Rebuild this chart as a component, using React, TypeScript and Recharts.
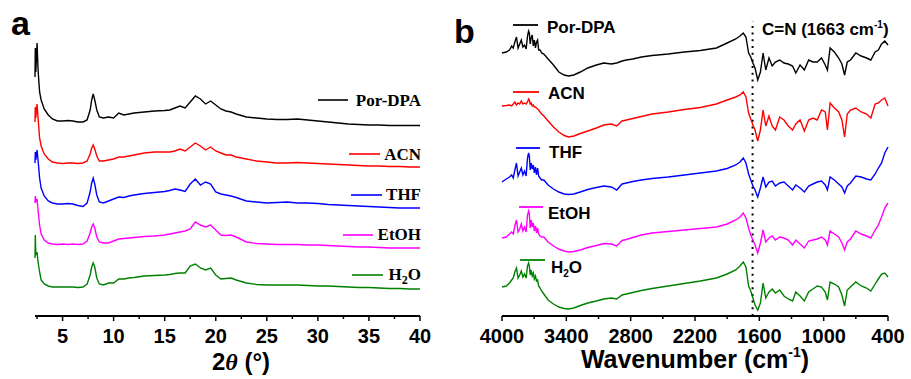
import { LineChart, Line, XAxis, YAxis, ReferenceLine } from "recharts";

// (a) PXRD, 2θ (°)
const twoTheta = [
  2.3, 2.33, 2.38, 2.5, 2.6, 2.75, 2.9, 3.2, 3.6, 4.0,
  4.5, 5.0, 5.5, 6.0, 6.5, 7.0, 7.4, 7.7, 7.85, 8.0,
  8.15, 8.35, 8.6, 9.0, 9.5, 10.0, 10.5, 11.0, 11.5, 12,
  13, 14, 15, 15.5, 16, 16.5, 17, 17.5, 18, 18.5,
  19, 19.5, 20, 20.5, 21, 21.5, 22, 23, 24, 25,
  26, 27, 28, 29, 30, 31, 32, 33, 34, 35,
  36, 37, 38, 39, 40,
];
// intensities already stacked (a.u.)
const xrdPorDpa = [
  239, 268, 244, 273, 246, 224, 216, 207, 201, 197,
  195, 195, 195.5, 195, 194, 194, 196, 206, 216, 222,
  216, 206, 199, 198, 199, 198, 203, 201, 202, 203,
  204, 205, 205.5, 206, 208, 210, 208, 214, 220, 217,
  212, 215, 211, 207, 205, 204, 202, 199, 198, 197,
  196.5, 196.5, 197, 196, 195, 194, 193, 192, 191.5, 191,
  191, 190.5, 190.5, 190.5, 190.5,
];
const xrdAcn = [
  194, 209, 198, 212, 198, 178, 170, 162, 157, 154,
  153, 152.5, 153, 153, 152.5, 153, 155, 162, 168, 171,
  167, 160, 155, 155, 156, 157, 159, 159, 160, 161,
  163, 164, 164, 164, 165, 167, 165, 169, 173, 170,
  166, 169, 165, 163, 161, 161, 159, 157, 155, 154,
  153, 153, 153.5, 153, 152.5, 152, 151.5, 151, 150.5, 150,
  150, 149.5, 149.5, 149, 149,
];
const xrdThf = [
  153, 164, 156, 166, 156, 138, 128, 120, 115, 113,
  112, 112, 112.5, 112, 110.5, 109.5, 113, 124, 133, 138,
  132, 121, 114, 113, 115, 117, 119, 118.5, 120, 121,
  122.5, 123.5, 124.5, 125.5, 127, 126, 124.5, 132, 137, 131,
  134, 132, 124, 122, 121, 120, 118.5, 115, 114, 113,
  113.5, 114, 113, 113, 112.5, 111.5, 111, 110.5, 110, 109.5,
  109, 108.5, 108, 108, 108,
];
const xrdEtoh = [
  113, 120, 114, 117, 106, 91, 82, 76, 73, 72,
  71.5, 72, 71.5, 72, 71.5, 72, 75, 83, 89, 92,
  88, 79, 74, 73, 73, 75, 77, 77.5, 78, 78.5,
  79.5, 80, 81, 82, 83, 84, 85, 87, 94, 91,
  89, 91, 86, 81, 80.5, 81, 79, 74, 72.5, 72,
  71.5, 71.5, 71.5, 71, 71, 70.5, 70, 69.5, 69, 69,
  68.5, 68, 68, 68, 68,
];
const xrdH2o = [
  58, 81, 61, 64, 54, 44, 36, 32, 30, 29,
  29, 29, 29, 29, 28.5, 29, 32, 41, 49, 53,
  49, 38, 32, 31, 33, 33, 37, 37, 38, 38.5,
  40, 40.5, 41, 41.5, 42.5, 43, 43, 50, 52, 48,
  46, 48, 41, 37, 37.5, 38, 36, 33, 31.5, 31,
  31, 31, 31, 30.5, 30, 30, 29.5, 29, 28.5, 28.5,
  28, 27.5, 27.5, 27, 27,
];

// (b) FT-IR, wavenumber (cm-1)
const wavenumber = [
  4000, 3960, 3930, 3910, 3895, 3880, 3865, 3850, 3835, 3820,
  3805, 3790, 3775, 3762, 3752, 3745, 3737, 3728, 3718, 3708,
  3698, 3688, 3678, 3668, 3658, 3645, 3630, 3610,
  3570, 3520, 3470, 3420, 3380,
  3330, 3270, 3200, 3120, 3050, 2980, 2930, 2880, 2840, 2780,
  2700, 2600, 2450, 2300, 2150, 2000, 1900, 1820, 1780, 1750,
  1725, 1700, 1680, 1660, 1640, 1615, 1590, 1565, 1540, 1510,
  1480, 1450, 1410, 1370, 1330, 1290, 1260, 1220, 1180, 1140,
  1100, 1060, 1020, 985, 965, 940, 900, 860, 830, 805,
  780, 750, 700, 650, 600, 560, 520, 490, 460, 430,
  400,
];
const irPorDpa = [
  263, 264, 266, 270, 268, 274, 279, 268, 272, 276,
  269, 271, 267, 280, 285, 283, 272, 278, 281, 270,
  276, 268, 274, 276, 266, 266, 263, 262,
  257, 251, 244, 241, 240,
  241, 244, 248, 251, 253, 252, 253, 255, 256, 257,
  259, 260.5, 262, 264, 265.5, 268, 273, 277, 280, 283,
  279, 263, 259, 253, 248, 236, 244, 263, 246, 258,
  250, 254, 256, 253, 252, 250, 243, 251, 246, 256,
  254, 254, 258, 251, 246, 268, 264, 258, 252, 241,
  254, 256, 263, 260, 258, 256, 264, 266, 272, 275,
  271,
];
const irAcn = [
  210, 210.5, 211, 210, 212, 214, 211, 213, 212, 215,
  212, 213, 212, 214, 217, 216, 212, 213, 210, 211,
  209, 209, 208, 207, 206, 204, 202, 200,
  195, 189, 184, 180.5, 179,
  180, 182.5, 185, 188, 191, 192, 190, 195, 196, 197.5,
  199.5, 202, 204, 206.5, 208.5, 212, 216, 219, 221, 224,
  219, 203, 197, 191, 186, 175, 186, 206, 190, 200,
  190, 186, 199, 196, 190, 186, 192, 196, 185, 196,
  198, 196, 206, 204, 186, 213, 208, 204, 196, 179,
  202, 206, 208, 204, 202, 198, 212, 213, 216, 218,
  210,
];
const irThf = [
  134, 137, 139, 141, 138, 146, 153, 140, 144, 148,
  141, 145, 140, 158, 163, 160, 146, 153, 147, 151,
  143, 149, 141, 148, 140, 138, 136, 136,
  131, 127, 124, 122, 121.5,
  122, 124, 126.5, 128.5, 130, 129, 126, 132, 133, 134.5,
  136, 137.5, 139, 141, 143, 145, 147.5, 151, 154, 158,
  153, 142, 136, 130, 126, 119, 128, 139, 129, 134,
  135, 130, 133, 134, 130, 126, 131, 128, 124, 130,
  132, 134, 135, 131, 126, 139, 136, 132, 129, 123,
  130, 133, 140, 139, 137, 136, 142, 148, 153, 163,
  169,
];
const irEtoh = [
  78, 79, 82, 84, 82, 90, 96, 84, 87, 92,
  85, 89, 84, 101, 105, 102, 88, 96, 89, 93,
  85, 90, 83, 88, 82, 80, 79, 79,
  74, 70, 67, 65, 64,
  64.5, 66, 68.5, 70.5, 72.5, 72, 70, 75.5, 76.5, 78.5,
  81, 83, 84.5, 86, 87.5, 89, 92, 96, 99, 103,
  98, 88, 81, 76, 71, 63, 73, 86, 74, 78,
  80, 76, 79, 78, 76, 71, 76, 72, 68, 75,
  76, 77, 79, 76, 71, 85, 82, 79, 73, 66,
  74, 77, 85, 82, 80, 78, 86, 91, 99, 108,
  113,
];
const irH2o = [
  29, 30, 33, 36, 38, 44, 48, 38, 41, 45,
  39, 42, 38, 50, 53, 50, 41, 46, 40, 43,
  37, 40, 35, 36, 30, 28, 25, 22,
  16, 12, 9, 7.5, 7,
  8, 10.5, 13, 15, 17, 18, 17, 21, 22, 23.5,
  25.5, 27.5, 30, 32.5, 35, 38, 42, 46, 50, 54,
  49, 30, 25, 18, 11, 6, 13, 33, 18, 24,
  27, 23, 26, 20, 17, 15, 24, 20, 15, 24,
  27, 30, 29, 24, 16, 34, 32, 29, 21, 10,
  26, 29, 34, 30, 28, 25, 32, 37, 42, 43,
  39,
];

const seriesKeys = ["porDpa", "acn", "thf", "etoh", "h2o"];
const seriesColors = ["#000000", "#ff0000", "#0000ff", "#ff00ff", "#008000"];

const xrdTicks = [2.5, 5, 7.5, 10, 12.5, 15, 17.5, 20, 22.5, 25, 27.5, 30, 32.5, 35, 37.5, 40];
const xrdTickLabels = [5, 10, 15, 20, 25, 30, 35, 40];
const irTicks = [4000, 3700, 3400, 3100, 2800, 2500, 2200, 1900, 1600, 1300, 1000, 700, 400];
const irTickLabels = [4000, 3400, 2800, 2200, 1600, 1000, 400];
const cnBand = 1663;

const xrdRows = twoTheta.map((t, i) => ({
  t,
  porDpa: xrdPorDpa[i],
  acn: xrdAcn[i],
  thf: xrdThf[i],
  etoh: xrdEtoh[i],
  h2o: xrdH2o[i],
}));

const irRows = wavenumber.map((wn, i) => ({
  wn,
  porDpa: irPorDpa[i],
  acn: irAcn[i],
  thf: irThf[i],
  etoh: irEtoh[i],
  h2o: irH2o[i],
}));

const SANS = "'Liberation Sans', Arial, sans-serif";
const SERIF = "'Liberation Serif', 'Times New Roman', serif";

// major ticks get a label, minor ones only a short line
function AxisTick(props: any) {
  const { x, y, payload, labels } = props;
  const major = labels.includes(payload.value);
  return (
    <g>
      <line x1={x} x2={x} y1={y} y2={y + (major ? 5 : 3)} stroke="#000" strokeWidth={1.5} />
      {major && (
        <text x={x} y={y + 27} textAnchor="middle" fontSize={20} fontWeight="bold" fontFamily={SANS} fill="#000">
          {payload.value}
        </text>
      )}
    </g>
  );
}

export default function App() {
  return (
    <div style={{ position: "absolute", left: 0, top: 0, width: 911, height: 379, background: "#fff" }}>
      {/* a: XRD */}
      <div style={{ position: "absolute", left: 0, top: 0 }}>
        <LineChart width={460} height={379} data={xrdRows} margin={{ top: 16, right: 40, bottom: 0, left: 35 }}>
          <XAxis
            dataKey="t"
            type="number"
            domain={[2.3, 40]}
            ticks={xrdTicks}
            interval={0}
            height={63}
            tickSize={0}
            tickMargin={0}
            tickLine={false}
            axisLine={{ stroke: "#000", strokeWidth: 2 }}
            tick={(p: any) => <AxisTick {...p} labels={xrdTickLabels} />}
          />
          <YAxis hide domain={[0, 300]} />
          {seriesKeys.map((k, i) => (
            <Line key={k} dataKey={k} stroke={seriesColors[i]} strokeWidth={1.4} dot={false} isAnimationActive={false} />
          ))}
        </LineChart>
      </div>

      {/* b: FT-IR */}
      <div style={{ position: "absolute", left: 460, top: 0 }}>
        <LineChart width={451} height={379} data={irRows} margin={{ top: 16, right: 23, bottom: 0, left: 42 }}>
          <XAxis
            dataKey="wn"
            type="number"
            domain={[400, 4000]}
            reversed
            ticks={irTicks}
            interval={0}
            height={63}
            tickSize={0}
            tickMargin={0}
            tickLine={false}
            axisLine={{ stroke: "#000", strokeWidth: 2 }}
            tick={(p: any) => <AxisTick {...p} labels={irTickLabels} />}
          />
          <YAxis hide domain={[0, 300]} />
          <ReferenceLine
            segment={[{ x: cnBand, y: 0 }, { x: cnBand, y: 295 }]}
            stroke="#000"
            strokeWidth={2}
            strokeDasharray="2 4.7"
          />
          {seriesKeys.map((k, i) => (
            <Line key={k} dataKey={k} stroke={seriesColors[i]} strokeWidth={1.4} dot={false} isAnimationActive={false} />
          ))}
        </LineChart>
      </div>

      {/* texts: panel letters, legends, axis titles */}
      <svg width={911} height={379} style={{ position: "absolute", left: 0, top: 0, pointerEvents: "none" }}>
        <text x={11} y={35} fontSize={34} fontWeight="bold" fontFamily={SANS}>a</text>
        <text x={454} y={43} fontSize={34} fontWeight="bold" fontFamily={SANS}>b</text>

        {/* legend a */}
        <g fontFamily={SERIF} fontWeight="bold" fontSize={17} textAnchor="end">
          <line x1={318} x2={348} y1={100} y2={100} stroke={seriesColors[0]} strokeWidth={1.6} />
          <text x={421} y={106}>Por-DPA</text>
          <line x1={349} x2={380} y1={154} y2={154} stroke={seriesColors[1]} strokeWidth={1.6} />
          <text x={421} y={160}>ACN</text>
          <line x1={351} x2={382} y1={195} y2={195} stroke={seriesColors[2]} strokeWidth={1.6} />
          <text x={421} y={200}>THF</text>
          <line x1={343} x2={373} y1={235} y2={235} stroke={seriesColors[3]} strokeWidth={1.6} />
          <text x={421} y={240}>EtOH</text>
          <line x1={352} x2={383} y1={275} y2={275} stroke={seriesColors[4]} strokeWidth={1.6} />
          <text x={421} y={280}>
            H<tspan fontSize={12} dy={4}>2</tspan><tspan dy={-4}>O</tspan>
          </text>
        </g>

        {/* legend b */}
        <g fontFamily={SANS} fontWeight="bold" fontSize={17}>
          <line x1={513} x2={538} y1={25} y2={25} stroke={seriesColors[0]} strokeWidth={1.8} />
          <text x={547} y={33}>Por-DPA</text>
          <line x1={513} x2={539} y1={92} y2={92} stroke={seriesColors[1]} strokeWidth={1.8} />
          <text x={548} y={99}>ACN</text>
          <line x1={516} x2={540} y1={148} y2={148} stroke={seriesColors[2]} strokeWidth={1.8} />
          <text x={549} y={158}>THF</text>
          <line x1={519} x2={543} y1={207} y2={207} stroke={seriesColors[3]} strokeWidth={1.8} />
          <text x={548} y={219}>EtOH</text>
          <line x1={520} x2={545} y1={260} y2={260} stroke={seriesColors[4]} strokeWidth={1.8} />
          <text x={551} y={273}>
            H<tspan fontSize={10} dy={4}>2</tspan><tspan dy={-4}>O</tspan>
          </text>
          <text x={762} y={35}>
            C=N (1663 cm<tspan fontSize={10} dy={-7}>-1</tspan><tspan dy={7}>)</tspan>
          </text>
        </g>

        {/* axis titles */}
        <text x={241} y={370} textAnchor="middle" fontSize={24} fontWeight="bold" fontFamily={SANS}>
          2<tspan fontStyle="italic" fontFamily={SERIF}>θ</tspan> (°)
        </text>
        <text x={695} y={368} textAnchor="middle" fontSize={25} fontWeight="bold" fontFamily={SANS}>
          Wavenumber (cm<tspan fontSize={14} dy={-11}>-1</tspan><tspan dy={11}>)</tspan>
        </text>
      </svg>
    </div>
  );
}
